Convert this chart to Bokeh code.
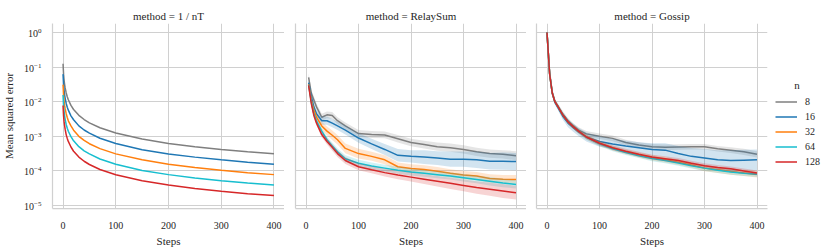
import numpy as np
from bokeh.plotting import figure
from bokeh.models import Range1d, FixedTicker, Legend, LegendItem, LogTickFormatter, CustomJSTickFormatter
from bokeh.layouts import row
from bokeh.embed import file_html
from bokeh.resources import INLINE

FONT = "Liberation Serif"
TEXT = "#262626"
GRID = "#d0d0d0"

methods = ["1 / nT", "RelaySum", "Gossip"]
n_labels = ["8", "16", "32", "64", "128"]
colors = ["#7f7f7f", "#1f77b4", "#ff7f0e", "#17becf", "#d62728"]
x_ticks = [0, 100, 200, 300, 400]
y_ticks = [1e-5, 1e-4, 1e-3, 1e-2, 1e-1, 1e0]

# ---- method = 1 / nT (mean squared error values) ----
steps_nt = [0, 1, 2, 3, 4, 6, 8, 10, 15, 20, 30, 40, 50, 70, 100, 150, 200, 250, 300, 350, 400]
nt_n8 = [0.125, 0.0625, 0.0417, 0.0313, 0.025, 0.0179, 0.0139, 0.0114, 0.0078, 0.00595, 0.00403,
         0.00305, 0.00245, 0.00176, 0.00124, 0.00083, 0.00062, 0.0005, 0.000415, 0.000356, 0.000312]
nt_n16 = [0.0625, 0.0312, 0.0208, 0.0156, 0.0125, 0.0089, 0.0069, 0.0057, 0.0039, 0.003, 0.002,
          0.00152, 0.00123, 0.00088, 0.00062, 0.00041, 0.00031, 0.00025, 0.00021, 0.000178, 0.000156]
nt_n32 = [0.0312, 0.0156, 0.0104, 0.0078, 0.0063, 0.0045, 0.0035, 0.0028, 0.002, 0.0015, 0.001,
          0.00076, 0.00061, 0.00044, 0.00031, 0.00021, 0.000155, 0.000125, 0.000104, 0.000089, 0.000078]
nt_n64 = [0.0156, 0.0078, 0.0052, 0.0039, 0.0031, 0.0022, 0.0017, 0.0014, 0.00098, 0.00074, 0.0005,
          0.00038, 0.00031, 0.00022, 0.000155, 0.000103, 0.000078, 0.000062, 0.000052, 0.000045, 0.000039]
nt_n128 = [0.0078, 0.0039, 0.0026, 0.002, 0.0016, 0.0011, 0.00087, 0.00071, 0.00049, 0.00037, 0.00025,
           0.00019, 0.000153, 0.00011, 0.000077, 0.000052, 0.000039, 0.000031, 0.000026, 0.000022, 0.0000195]

# ---- method = RelaySum (log10 of mean squared error, band half-width in decades) ----
steps_relay = [5, 10, 15, 20, 30, 40, 50, 60, 75, 100, 125, 150, 175, 200, 225, 250, 275, 300, 325, 350, 375, 400]
relay_n8 = [-1.30, -1.75, -1.95, -2.15, -2.45, -2.38, -2.40, -2.55, -2.70, -2.92, -2.95, -2.96, -3.07, -3.18,
            -3.24, -3.30, -3.33, -3.38, -3.45, -3.50, -3.52, -3.56]
relay_n16 = [-1.45, -1.85, -2.15, -2.35, -2.55, -2.55, -2.62, -2.70, -2.82, -3.05, -3.22, -3.38, -3.55, -3.58,
             -3.60, -3.63, -3.66, -3.66, -3.68, -3.72, -3.72, -3.73]
relay_n32 = [-1.50, -1.95, -2.25, -2.45, -2.70, -2.85, -2.97, -3.10, -3.35, -3.50, -3.58, -3.68, -3.88, -3.93,
             -3.96, -4.01, -4.07, -4.12, -4.15, -4.22, -4.24, -4.25]
relay_n64 = [-1.52, -2.00, -2.35, -2.55, -2.85, -3.10, -3.28, -3.45, -3.65, -3.78, -3.86, -3.92, -3.98, -4.03,
             -4.07, -4.11, -4.15, -4.20, -4.25, -4.30, -4.35, -4.39]
relay_n128 = [-1.53, -2.05, -2.40, -2.62, -2.95, -3.15, -3.32, -3.50, -3.70, -3.88, -3.97, -4.05, -4.12, -4.18,
              -4.24, -4.30, -4.36, -4.42, -4.48, -4.53, -4.58, -4.63]
relay_band_n8 = [0.12, 0.1, 0.1, 0.1, 0.1, 0.1, 0.1, 0.1, 0.1, 0.1, 0.1, 0.1, 0.11, 0.11, 0.11, 0.12, 0.12, 0.12, 0.12, 0.12, 0.12, 0.13]
relay_band_n16 = [0.08, 0.08, 0.08, 0.1, 0.12, 0.12, 0.12, 0.12, 0.13, 0.14, 0.15, 0.16, 0.18, 0.18, 0.2, 0.2, 0.22, 0.22, 0.24, 0.24, 0.25, 0.25]
relay_band_n32 = [0.05, 0.06, 0.08, 0.1, 0.12, 0.13, 0.14, 0.14, 0.14, 0.14, 0.13, 0.13, 0.12, 0.12, 0.12, 0.12, 0.12, 0.12, 0.12, 0.12, 0.12, 0.13]
relay_band_n64 = [0.04, 0.05, 0.06, 0.07, 0.08, 0.09, 0.1, 0.1, 0.1, 0.1, 0.1, 0.1, 0.1, 0.1, 0.1, 0.1, 0.1, 0.11, 0.11, 0.12, 0.12, 0.12]
relay_band_n128 = [0.04, 0.05, 0.06, 0.07, 0.08, 0.09, 0.1, 0.1, 0.1, 0.1, 0.1, 0.11, 0.12, 0.13, 0.14, 0.15, 0.16, 0.17, 0.18, 0.19, 0.2, 0.2]

# ---- method = Gossip (log10 of mean squared error, band half-width in decades) ----
steps_gossip = [0, 5, 10, 15, 20, 30, 40, 50, 60, 75, 100, 125, 150, 175, 200, 225, 250, 275, 300, 325, 350, 375, 400]
gossip_n8 = [0, -1.15, -1.72, -1.98, -2.10, -2.35, -2.55, -2.70, -2.82, -2.93, -3.00, -3.06, -3.18, -3.25, -3.30,
             -3.32, -3.31, -3.30, -3.30, -3.36, -3.40, -3.45, -3.52]
gossip_n16 = [0, -1.20, -1.76, -2.02, -2.15, -2.42, -2.62, -2.75, -2.87, -3.02, -3.15, -3.22, -3.28, -3.33, -3.38,
              -3.40, -3.50, -3.58, -3.63, -3.68, -3.70, -3.69, -3.68]
gossip_n32 = [0, -1.20, -1.75, -2.00, -2.12, -2.38, -2.58, -2.72, -2.85, -3.02, -3.20, -3.34, -3.45, -3.54, -3.62,
              -3.68, -3.75, -3.83, -3.92, -3.97, -4.02, -4.06, -4.10]
gossip_n64 = [0, -1.20, -1.75, -2.00, -2.12, -2.38, -2.58, -2.72, -2.85, -3.03, -3.22, -3.36, -3.47, -3.56, -3.64,
              -3.70, -3.77, -3.85, -3.92, -3.98, -4.03, -4.07, -4.10]
gossip_n128 = [0, -1.20, -1.75, -2.00, -2.12, -2.38, -2.58, -2.72, -2.85, -3.02, -3.20, -3.33, -3.43, -3.52, -3.60,
               -3.65, -3.70, -3.78, -3.85, -3.90, -3.94, -4.00, -4.06]
gossip_band_n8 = [0, 0.03, 0.05, 0.06, 0.07, 0.08, 0.08, 0.08, 0.08, 0.08, 0.08, 0.08, 0.08, 0.08, 0.08, 0.08, 0.08, 0.08, 0.08, 0.08, 0.08, 0.09, 0.09]
gossip_band_n16 = [0, 0.03, 0.05, 0.06, 0.07, 0.1, 0.12, 0.12, 0.12, 0.13, 0.15, 0.15, 0.15, 0.16, 0.18, 0.2, 0.22, 0.24, 0.26, 0.28, 0.3, 0.3, 0.3]
gossip_band_n32 = [0, 0.03, 0.04, 0.05, 0.05, 0.06, 0.06, 0.07, 0.07, 0.07, 0.07, 0.07, 0.07, 0.07, 0.08, 0.08, 0.08, 0.08, 0.09, 0.09, 0.09, 0.09, 0.09]
gossip_band_n64 = [0, 0.03, 0.04, 0.05, 0.05, 0.06, 0.06, 0.07, 0.07, 0.07, 0.07, 0.07, 0.07, 0.07, 0.08, 0.08, 0.08, 0.08, 0.08, 0.08, 0.08, 0.08, 0.08]
gossip_band_n128 = [0, 0.03, 0.04, 0.05, 0.05, 0.05, 0.06, 0.06, 0.06, 0.06, 0.06, 0.07, 0.07, 0.07, 0.07, 0.07, 0.07, 0.07, 0.07, 0.07, 0.07, 0.07, 0.07]

nt_series = [nt_n8, nt_n16, nt_n32, nt_n64, nt_n128]
relay_series = [relay_n8, relay_n16, relay_n32, relay_n64, relay_n128]
relay_bands = [relay_band_n8, relay_band_n16, relay_band_n32, relay_band_n64, relay_band_n128]
gossip_series = [gossip_n8, gossip_n16, gossip_n32, gossip_n64, gossip_n128]
gossip_bands = [gossip_band_n8, gossip_band_n16, gossip_band_n32, gossip_band_n64, gossip_band_n128]

x_range = Range1d(-20, 420)
y_range = Range1d(10 ** -5.087, 10 ** 0.26)


def make_fig(title, left, right, ylabel, fw):
    p = figure(frame_width=fw, frame_height=185, y_axis_type="log",
               x_range=x_range, y_range=y_range, output_backend="svg", toolbar_location=None,
               min_border_left=left, min_border_right=right, min_border_top=23, min_border_bottom=43)
    p.outline_line_color = None
    p.title.text = title
    p.title.align = "center"
    p.title.text_font = FONT
    p.title.text_font_size = "11px"
    p.title.text_font_style = "normal"
    p.title.text_color = TEXT
    p.title.standoff = 3
    p.xgrid.ticker = FixedTicker(ticks=x_ticks)
    p.ygrid.ticker = FixedTicker(ticks=y_ticks)
    for g in (p.xgrid, p.ygrid):
        g.grid_line_color = GRID
        g.grid_line_width = 1
    p.xaxis.ticker = FixedTicker(ticks=x_ticks)
    p.yaxis.ticker = FixedTicker(ticks=y_ticks, minor_ticks=[])
    for ax in (p.xaxis, p.yaxis):
        ax.axis_line_color = GRID
        ax.axis_line_width = 1.25
        ax.major_tick_line_color = None
        ax.minor_tick_line_color = None
        ax.major_label_text_font = FONT
        ax.major_label_text_font_size = "10px"
        ax.major_label_text_color = TEXT
        ax.axis_label_text_font = FONT
        ax.axis_label_text_font_size = "11px"
        ax.axis_label_text_font_style = "normal"
        ax.axis_label_text_color = TEXT
    p.xaxis.axis_label = "Steps"
    p.xaxis.major_label_standoff = 7
    p.xaxis.axis_label_standoff = 3
    if ylabel:
        p.yaxis.formatter = LogTickFormatter()
        p.yaxis.axis_label = "Mean squared error"
        p.yaxis.major_label_standoff = 5
        p.yaxis.axis_label_standoff = 6
    else:
        p.yaxis.formatter = CustomJSTickFormatter(code="return '';")
        p.yaxis.major_label_standoff = 0
    return p


p1 = make_fig("method = " + methods[0], 52, 0, True, 232)
p2 = make_fig("method = " + methods[1], 11, 0, False, 231)
p3 = make_fig("method = " + methods[2], 10, 64, False, 231)

for i in range(5):
    p1.line(steps_nt, nt_series[i], line_color=colors[i], line_width=1.5)

legend_renderers = []
for p, steps, series, bands in ((p2, steps_relay, relay_series, relay_bands),
                                (p3, steps_gossip, gossip_series, gossip_bands)):
    xs = np.array(steps)
    for i in range(5):
        m = np.array(series[i])
        b = np.array(bands[i])
        p.varea(x=xs, y1=10 ** (m - b), y2=10 ** (m + b), fill_color=colors[i], fill_alpha=0.2)
        r = p.line(xs, 10 ** m, line_color=colors[i], line_width=1.5)
        if p is p3:
            legend_renderers.append(r)

legend = Legend(items=[LegendItem(label=n_labels[i], renderers=[legend_renderers[i]]) for i in range(5)],
                title="\u00a0" * 7 + "n", location=(8, 39))
legend.border_line_color = None
legend.background_fill_color = None
legend.margin = 0
legend.padding = 4
legend.spacing = 0
legend.glyph_width = 22
legend.glyph_height = 15
legend.label_height = 15
legend.label_standoff = 8
legend.label_text_font = FONT
legend.label_text_font_size = "10px"
legend.label_text_color = TEXT
legend.title_text_font = FONT
legend.title_text_font_size = "11px"
legend.title_text_font_style = "normal"
legend.title_text_color = TEXT
legend.title_standoff = 3
p3.add_layout(legend, "right")

layout = row(p1, p2, p3, spacing=0)
open("out.html", "w").write(file_html(layout, INLINE))
